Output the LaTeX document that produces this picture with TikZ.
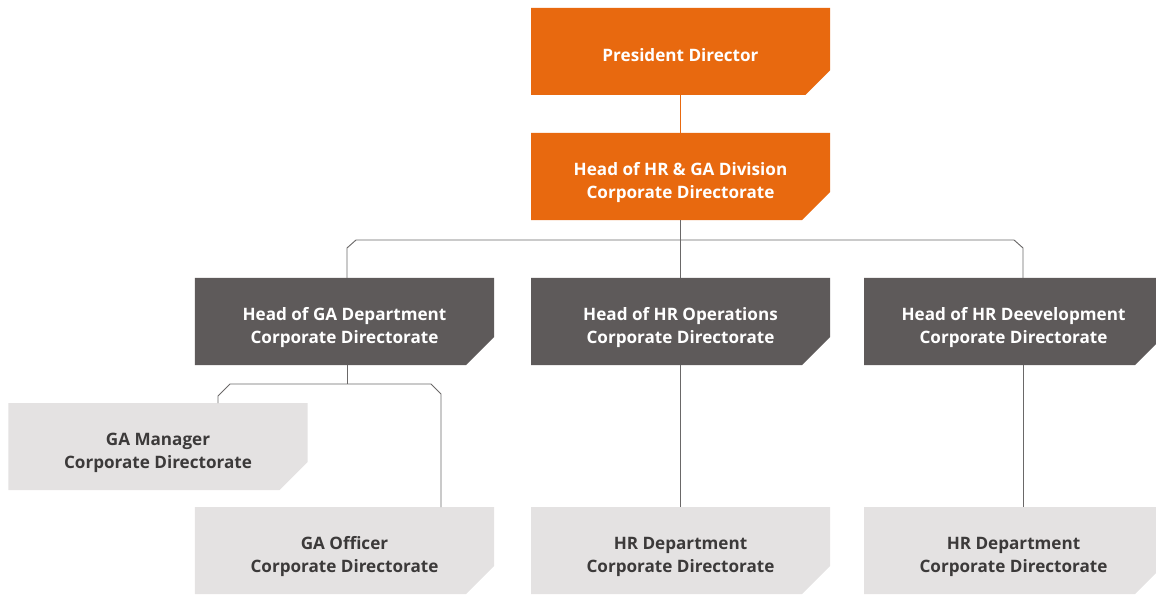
\documentclass[tikz,border=0pt]{standalone}
\usepackage{fontspec}
\setmainfont{Open Sans}
\usepackage{tikz}
\usetikzlibrary{shapes.misc}

\definecolor{orgorange}{HTML}{E8690F}
\definecolor{orgdark}{HTML}{5E5A5A}
\definecolor{orglight}{HTML}{E4E2E2}
\definecolor{orgtext}{HTML}{3C3A3A}
\definecolor{orgline}{HTML}{6A6868}

\tikzset{
  unit/.style={chamfered rectangle, chamfered rectangle corners=south east,
    chamfered rectangle xsep=0.42cm, chamfered rectangle ysep=0.42cm,
    minimum width=8.97cm, minimum height=2.61cm, inner sep=0pt, outer sep=0pt,
    align=center, font=\fontsize{14.6}{19.6}\selectfont\bfseries,
    text height=41.5pt},
  top/.style={unit, fill=orgorange, text=white},
  dept/.style={unit, fill=orgdark, text=white},
  staff/.style={unit, fill=orglight, text=orgtext},
  link/.style={draw=orgline, line width=0.8pt},
}

\begin{document}
\begin{tikzpicture}[x=0.03cm, y=-0.03cm]
\useasboundingbox (0,0) rectangle (1156,595);

\node [top, text height=18pt] (PRES) at (680.5,51.5) {President Director};
\node [top] (HRGA) at (680.5,176.5) {Head of HR \& GA Division \\ Corporate Directorate};

\node [dept] (GADEPT) at (344.5,321.5) {Head of GA Department \\ Corporate Directorate};
\node [dept] (HROPS) at (680.5,321.5) {Head of HR Operations \\ Corporate Directorate};
\node [dept] (HRDEV) at (1013.5,321.5) {Head of HR Deevelopment \\ Corporate Directorate};

\node [staff] (GAMGR) at (158,446.5) {GA Manager \\ Corporate Directorate};
\node [staff] (GAOFF) at (344.5,550.5) {GA Officer \\ Corporate Directorate};
\node [staff] (HRDEP) at (680.5,550.5) {HR Department \\ Corporate Directorate};
\node [staff] (HRDEP2) at (1013.5,550.5) {HR Department \\ Corporate Directorate};

\coordinate (busL) at (347,240);
\coordinate (busR) at (1023,240);
\coordinate (gaL) at (218,384);
\coordinate (gaR) at (441,384);

\draw [orgorange, line width=1pt] (PRES.south) -- (HRGA.north);
\draw [link] (HRGA.south) -- (HROPS.north);
\draw [link] (GADEPT.north -| busL) -- ++(0,-30) -- ++(9,-8) -- ++(658,0) -- ++(9,8) -- (HRDEV.north -| busR);

\draw [link] (GADEPT.south -| busL) -- ++(0,19);
\draw [link] (GAMGR.north -| gaL) -- ++(0,-7) -- ++(12,-12) -- ++(201,0) -- ++(10,10) -- (GAOFF.north -| gaR);

\draw [link] (HROPS.south) -- (HRDEP.north);
\draw [link] (HRDEV.south -| busR) -- (HRDEP2.north -| busR);
\end{tikzpicture}
\end{document}
